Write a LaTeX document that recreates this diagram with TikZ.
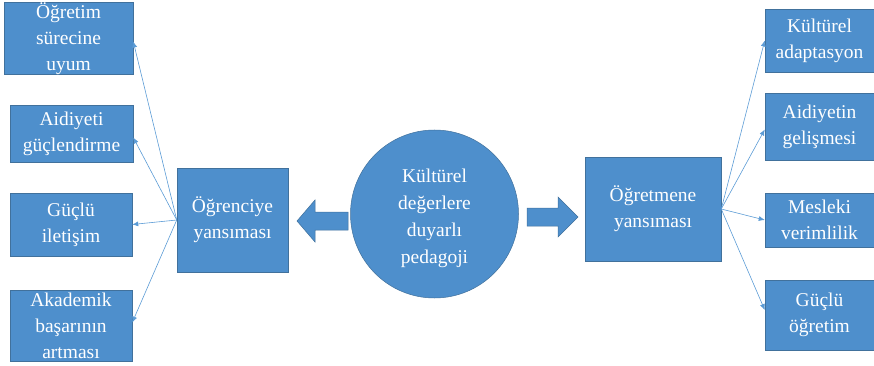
\documentclass[tikz,border=0pt]{standalone}
\usepackage{fontspec}
\setmainfont{Liberation Serif}
\newfontfamily\boxfont{Liberation Serif}
\usetikzlibrary{arrows.meta}
\definecolor{boxblue}{HTML}{4E8FCC}
\definecolor{boxedge}{HTML}{41719C}
\definecolor{linkblue}{HTML}{5B9BD5}
\begin{document}
\begin{tikzpicture}[x=1pt,y=-1pt,
  bx/.style={draw=boxedge,line width=0.5pt,fill=boxblue,text=white,align=center,inner sep=0pt,
    font=\boxfont\fontsize{19.5}{26}\selectfont},
  link/.style={draw=linkblue,line width=0.6pt,-{Latex[length=6pt,width=5pt]}},
  blockarrow/.style={fill=boxblue,draw=boxedge,line width=0.5pt}]
\useasboundingbox (0,0) rectangle (874,366);
% left boxes
\node[bx,minimum width=129pt,minimum height=71pt] (l1) at (68.5,38.5) {Öğretim\\sürecine\\uyum};
\node[bx,minimum width=123pt,minimum height=57pt] (l2) at (71.5,133.5) {Aidiyeti\\güçlendirme};
\node[bx,minimum width=122pt,minimum height=63pt] (l3) at (71,224.5) {Güçlü\\iletişim};
\node[bx,minimum width=122pt,minimum height=71pt] (l4) at (71,325.5) {Akademik\\başarının\\artması};
\node[bx,minimum width=111pt,minimum height=104pt] (ogr) at (232.5,220) {Öğrenciye\\yansıması};
% center
\node[bx,circle,minimum size=168pt] (c) at (434.5,214) {};
\node[text=white,align=center,inner sep=0pt,font=\boxfont\fontsize{19.5}{27}\selectfont] (ct) at (434.5,218) {Kültürel\\değerlere\\duyarlı\\pedagoji};
% right
\node[bx,minimum width=136pt,minimum height=104pt] (ogm) at (653,209) {Öğretmene\\yansıması};
\node[bx,minimum width=109pt,minimum height=63pt] (r1) at (819.5,40.5) {Kültürel\\adaptasyon};
\node[bx,minimum width=109pt,minimum height=67pt] (r2) at (819.5,126.5) {Aidiyetin\\gelişmesi};
\node[bx,minimum width=109pt,minimum height=54pt] (r3) at (819.5,220) {Mesleki\\verimlilik};
\node[bx,minimum width=109pt,minimum height=70pt] (r4) at (819.5,315) {Güçlü\\öğretim};
% block arrows
\draw[blockarrow] (348,212) -- (315,212) -- (315,200) -- (297,221) -- (315,242) -- (315,230) -- (348,230) -- cycle;
\draw[blockarrow] (527,208) -- (558,208) -- (558,197) -- (578,217) -- (558,237) -- (558,226) -- (527,226) -- cycle;
% links
\draw[link] (ogr.west) -- ([yshift=-3pt]l1.east);
\draw[link] (ogr.west) -- ([yshift=-4pt]l2.east);
\draw[link] (ogr.west) -- (l3.east);
\draw[link] (ogr.west) -- ([yshift=3pt]l4.east);
\draw[link] (ogm.east) -- (r1.west);
\draw[link] (ogm.east) -- ([yshift=-3pt]r2.west);
\draw[link] (ogm.east) -- (r3.west);
\draw[link] (ogm.east) -- ([yshift=5pt]r4.west);
\end{tikzpicture}
\end{document}
